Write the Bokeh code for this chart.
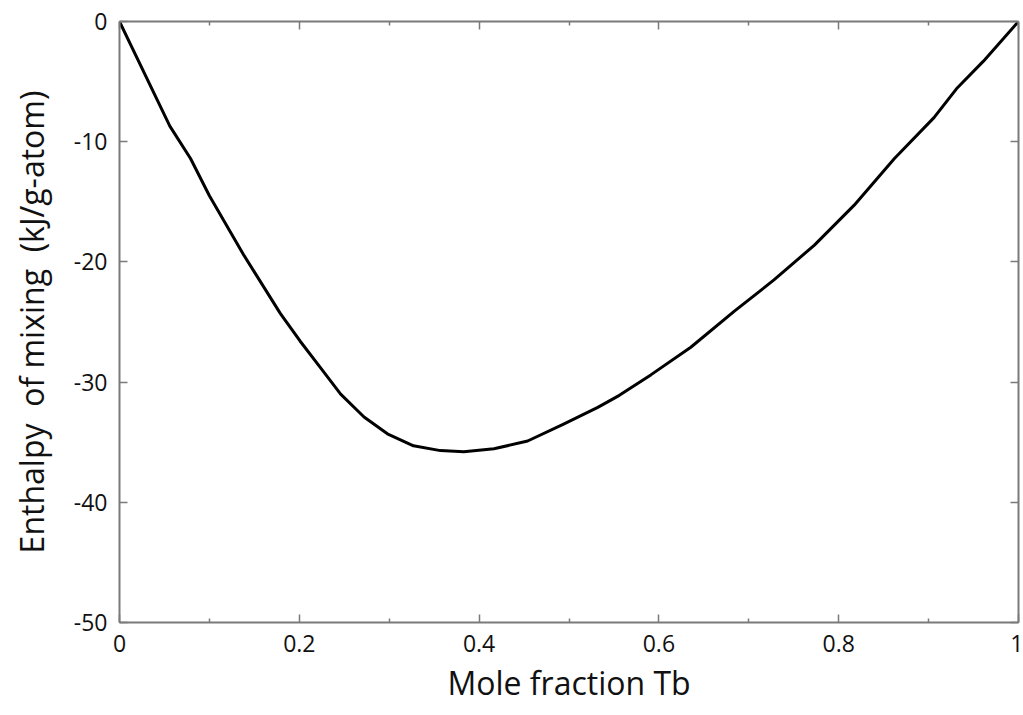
from bokeh.plotting import figure
from bokeh.models import Range1d, LinearAxis, FixedTicker
from bokeh.embed import file_html
from bokeh.resources import INLINE

# Data
mole_fraction = [0.0, 0.056, 0.079, 0.10, 0.138, 0.179, 0.201, 0.2235, 0.246,
                 0.272, 0.298, 0.327, 0.357, 0.383, 0.4165, 0.454, 0.494,
                 0.532, 0.556, 0.591, 0.6355, 0.684, 0.728, 0.773, 0.817,
                 0.862, 0.906, 0.931, 0.961, 1.0]
enthalpy = [0.0, -8.7, -11.4, -14.5, -19.4, -24.3, -26.6, -28.8, -31.0,
            -32.9, -34.3, -35.3, -35.7, -35.8, -35.55, -34.9, -33.5,
            -32.1, -31.1, -29.4, -27.1, -24.1, -21.5, -18.6, -15.3,
            -11.4, -8.0, -5.6, -3.3, 0.0]

x_ticks = [0.0, 0.2, 0.4, 0.6, 0.8, 1.0]
x_tick_labels = ["0", "0.2", "0.4", "0.6", "0.8", "1"]
x_minor_ticks = [0.1, 0.3, 0.5, 0.7, 0.9]
y_ticks = [0, -10, -20, -30, -40, -50]
y_tick_labels = ["0", "-10", "-20", "-30", "-40", "-50"]

FONT = "Open Sans"
AXIS_COLOR = "#7a7a7a"
TEXT_COLOR = "#111111"

p = figure(width=1023, height=706, output_backend="svg", toolbar_location=None,
           x_range=Range1d(0, 1), y_range=Range1d(-50, 0),
           x_axis_location=None, y_axis_location=None,
           min_border_left=119, min_border_right=5, min_border_top=21,
           min_border_bottom=80)
p.outline_line_color = None
p.grid.visible = False
p.background_fill_color = "white"
p.border_fill_color = "white"

def style(ax, labels, show):
    ax.axis_line_color = AXIS_COLOR
    ax.axis_line_width = 2
    ax.major_tick_line_color = AXIS_COLOR
    ax.minor_tick_line_color = AXIS_COLOR
    ax.major_tick_line_width = 1.5
    ax.minor_tick_line_width = 1.5
    ax.major_tick_out = 0
    ax.minor_tick_out = 0
    ax.major_label_text_font = FONT
    ax.major_label_text_font_size = "23px"
    ax.major_label_text_color = TEXT_COLOR
    ax.axis_label_text_font = FONT
    ax.axis_label_text_font_style = "normal"
    ax.axis_label_text_color = TEXT_COLOR
    ax.axis_label_text_font_size = "32px"
    if show:
        ax.major_label_overrides = labels
    else:
        ax.major_label_text_alpha = 0
        ax.major_label_text_font_size = "0px"

xt = FixedTicker(ticks=x_ticks, minor_ticks=x_minor_ticks)
yt = FixedTicker(ticks=y_ticks, minor_ticks=[])
xlab = {t: l for t, l in zip(x_ticks, x_tick_labels)}
ylab = {t: l for t, l in zip(y_ticks, y_tick_labels)}

bottom = LinearAxis(ticker=xt, axis_label="Mole fraction Tb")
style(bottom, xlab, True)
bottom.major_tick_in = 8
bottom.minor_tick_in = 4
bottom.major_label_standoff = 12
bottom.axis_label_standoff = 6
p.add_layout(bottom, "below")

top = LinearAxis(ticker=xt)
style(top, xlab, False)
top.major_tick_in = 8
top.minor_tick_in = 4
p.add_layout(top, "above")

left = LinearAxis(ticker=yt,
                  axis_label="Enthalpy\u00a0 of mixing\u00a0 (kJ/g-atom)")
style(left, ylab, True)
left.major_tick_in = 8
left.major_label_standoff = 12
left.axis_label_standoff = 18
p.add_layout(left, "left")

right = LinearAxis(ticker=yt)
style(right, ylab, False)
right.major_tick_in = 8
p.add_layout(right, "right")

p.line(mole_fraction, enthalpy, line_color="black", line_width=3,
       line_join="round")

open("out.html", "w").write(file_html(p, INLINE))
